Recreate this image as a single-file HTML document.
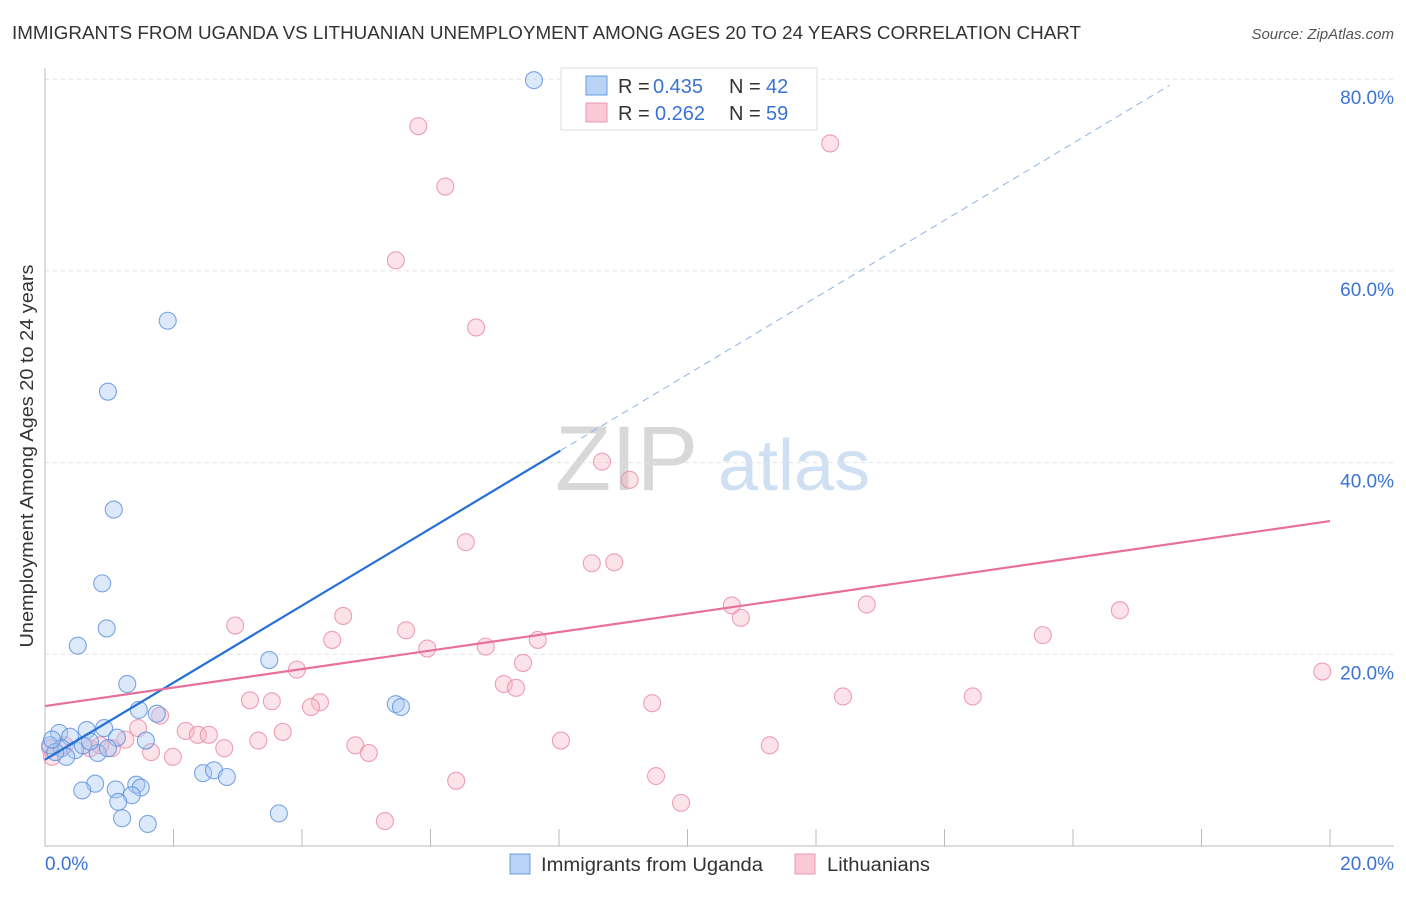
<!DOCTYPE html>
<html><head><meta charset="utf-8"><style>
body{margin:0;background:#fff;font-family:"Liberation Sans",sans-serif;}
svg text{font-family:"Liberation Sans",sans-serif;}
</style></head><body>
<svg id="chart" width="1406" height="892" xmlns="http://www.w3.org/2000/svg">
<text x="12" y="39" font-size="18" fill="#333" textLength="1069" lengthAdjust="spacingAndGlyphs">IMMIGRANTS FROM UGANDA VS LITHUANIAN UNEMPLOYMENT AMONG AGES 20 TO 24 YEARS CORRELATION CHART</text>
<text x="1394" y="39" font-size="15" fill="#555" text-anchor="end" font-style="italic">Source: ZipAtlas.com</text>
<g>
<text x="555" y="490" font-size="92" fill="#d8d8d8" font-family="Liberation Serif">ZIP</text>
<text x="718" y="490" font-size="72" fill="#cfe0f3">atlas</text>
</g>
<g id="grid"></g>
<g id="axes"></g>
<g id="marks"></g>
<g>
<rect x="561" y="68" width="256" height="62" fill="#fff" stroke="#ddd"/>
<rect x="586" y="76" width="21" height="19" fill="#b8d3f5" stroke="#6a9ee0"/>
<rect x="586" y="103" width="21" height="19" fill="#f9c9d7" stroke="#e999b2"/>
<text x="618" y="93" font-size="20" fill="#333">R =</text>
<text x="653" y="93" font-size="20" fill="#3b73d1">0.435</text>
<text x="729" y="93" font-size="20" fill="#333">N =</text>
<text x="766" y="93" font-size="20" fill="#3b73d1">42</text>
<text x="618" y="120" font-size="20" fill="#333">R =</text>
<text x="655" y="120" font-size="20" fill="#3b73d1">0.262</text>
<text x="729" y="120" font-size="20" fill="#333">N =</text>
<text x="766" y="120" font-size="20" fill="#3b73d1">59</text>
</g>
<text transform="translate(33,456) rotate(-90)" font-size="18" fill="#333" text-anchor="middle" textLength="383" lengthAdjust="spacingAndGlyphs">Unemployment Among Ages 20 to 24 years</text>
<text x="45" y="870" font-size="19" fill="#3b73d1">0.0%</text>
<text x="1394" y="870" font-size="19" fill="#3b73d1" text-anchor="end">20.0%</text>
<g>
<rect x="510" y="854" width="20" height="20" fill="#b8d3f5" stroke="#6a9ee0"/>
<text x="541" y="871" font-size="19" fill="#333" textLength="222" lengthAdjust="spacingAndGlyphs">Immigrants from Uganda</text>
<rect x="795" y="854" width="20" height="20" fill="#f9c9d7" stroke="#e999b2"/>
<text x="827" y="871" font-size="19" fill="#333" textLength="103" lengthAdjust="spacingAndGlyphs">Lithuanians</text>
</g>
</svg>
<script>
const yTicks=[20,40,60,80];
const yTickLabels=["20.0%","40.0%","60.0%","80.0%"];
const xTicks=[0,2,4,6,8,10,12,14,16,18,20];
const blueX=[7.61,1.91,0.98,1.07,0.89,0.96,0.51,3.49,1.28,5.46,5.54,1.46,1.74,0.22,0.65,0.92,0.39,1.12,1.57,0.08,0.26,0.47,0.82,0.33,0.16,0.59,0.78,0.58,1.1,1.42,1.49,1.35,1.14,2.46,2.63,2.83,1.2,1.6,3.64,0.98,0.11,0.7];
const blueY=[79.9,54.8,47.4,35.1,27.4,22.7,20.9,19.4,16.9,14.8,14.5,14.2,13.8,11.8,12.1,12.3,11.4,11.3,11.0,10.5,10.2,10.0,9.7,9.3,9.8,10.5,6.5,5.8,5.9,6.4,6.1,5.3,4.6,7.6,7.9,7.2,2.9,2.3,3.4,10.2,11.1,10.9];
const pinkX=[5.81,12.22,6.23,5.46,6.71,8.67,9.1,6.55,8.51,8.86,10.69,12.79,16.73,10.83,4.64,2.96,5.62,15.53,4.47,7.67,6.86,5.95,7.44,3.92,19.88,7.14,7.33,12.42,14.44,3.19,3.53,4.28,4.14,9.45,1.79,2.19,2.38,2.55,3.7,1.25,3.32,8.03,4.83,2.79,11.28,1.04,5.04,1.65,1.99,1.45,6.4,9.51,9.9,5.29,0.08,0.31,0.7,0.11,0.86];
const pinkY=[75.1,73.3,68.8,61.1,54.1,40.1,38.2,31.7,29.5,29.6,25.1,25.2,24.6,23.8,24.0,23.0,22.5,22.0,21.5,21.5,20.8,20.6,19.1,18.4,18.2,16.9,16.5,15.6,15.6,15.2,15.1,15.0,14.5,14.9,13.6,12.0,11.6,11.6,11.9,11.1,11.0,11.0,10.5,10.2,10.5,10.2,9.7,9.8,9.3,12.3,6.8,7.3,4.5,2.6,10.2,10.5,10.2,9.3,10.5];
const blueTrend=[9.0,4.02];
const pinkTrend=[14.6,0.965];
const NS="http://www.w3.org/2000/svg";
const X0=45,X1=1330,Y0=846,YPX=191.7/20;
const sx=v=>X0+(v/20)*(X1-X0);
const sy=v=>Y0-v*YPX;
function mk(tag,attrs,parent){const e=document.createElementNS(NS,tag);for(const k in attrs)e.setAttribute(k,attrs[k]);parent.appendChild(e);return e;}
const grid=document.getElementById('grid'),axes=document.getElementById('axes'),marks=document.getElementById('marks');
yTicks.forEach((t,i)=>{
 const l=mk('line',{x1:X0,x2:1394,y1:sy(t),y2:sy(t),stroke:'#e2e2e2','stroke-dasharray':'4,4'},grid);
 
 
 const tx=mk('text',{x:1394,y:sy(t)+25,'font-size':19,fill:'#3b73d1','text-anchor':'end'},axes);
 tx.textContent=yTickLabels[i];
 
 
});
let a=mk('line',{x1:X0,x2:X0,y1:68,y2:Y0,stroke:'#bbb'},axes);


a=mk('line',{x1:X0,x2:1394,y1:Y0,y2:Y0,stroke:'#bbb'},axes);


xTicks.forEach(t=>{const l=mk('line',{x1:sx(t),x2:sx(t),y1:Y0-17,y2:Y0,stroke:'#bbb'},axes);
 
 });
function dots(xs,ys,fill,stroke,name){xs.forEach((x,i)=>{const c=mk('circle',{cx:sx(x),cy:sy(ys[i]),r:8.5,fill:fill,'fill-opacity':0.4,stroke:stroke,'stroke-opacity':0.8,'stroke-width':1.1},marks);
 
 });}
dots(pinkX,pinkY,'#f7b6c8','#e88aa8','lithuanians-point');
dots(blueX,blueY,'#a8c8f2','#5b8fdb','uganda-point');
const bf=x=>blueTrend[0]+blueTrend[1]*x, pf=x=>pinkTrend[0]+pinkTrend[1]*x;
let t=mk('line',{x1:sx(0),y1:sy(bf(0)),x2:sx(8.02),y2:sy(bf(8.02)),stroke:'#2470d6','stroke-width':2.2},marks);


t=mk('line',{x1:sx(8.02),y1:sy(bf(8.02)),x2:sx(17.5),y2:sy(bf(17.5)),stroke:'#8fb2e6','stroke-width':1,'stroke-dasharray':'7,5'},marks);


t=mk('line',{x1:sx(0),y1:sy(pf(0)),x2:sx(20),y2:sy(pf(20)),stroke:'#e8709a','stroke-width':2.2},marks);


</script>
</body></html>
